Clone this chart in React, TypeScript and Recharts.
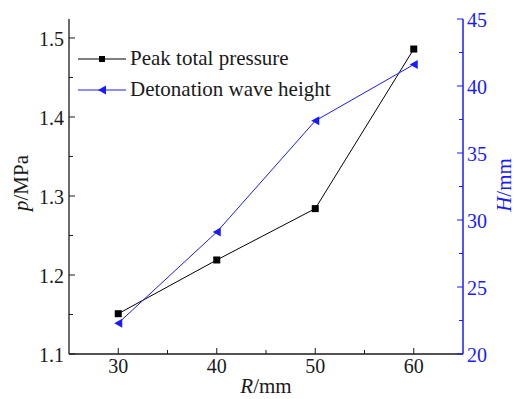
import { LineChart, Line, XAxis, YAxis } from 'recharts';

const radius = [30, 40, 50, 60];
const peakPressure = [1.151, 1.219, 1.284, 1.486];
const waveHeight = [22.3, 29.1, 37.4, 41.6];

const xTicks = [30, 35, 40, 45, 50, 55, 60];
const xLabels = [30, 40, 50, 60];
const pTicks = [1.1, 1.15, 1.2, 1.25, 1.3, 1.35, 1.4, 1.45, 1.5];
const pLabels = [1.1, 1.2, 1.3, 1.4, 1.5];
const hTicks = [20, 22.5, 25, 27.5, 30, 32.5, 35, 37.5, 40, 42.5, 45];
const hLabels = [20, 25, 30, 35, 40, 45];

const FONT = '"Liberation Serif", "Times New Roman", serif';
const BLUE = '#1a1aff';
const INK = '#1a1a1a';

const data = radius.map((r, i) => ({ r, p: peakPressure[i], h: waveHeight[i] }));

const isMajor = (list: number[], v: number) => list.some(t => Math.abs(t - v) < 1e-6);

function BottomTick({ x, y, payload }: any) {
  const major = isMajor(xLabels, payload.value);
  return (
    <g>
      <line x1={x} y1={y} x2={x} y2={y - (major ? 6 : 4)} stroke={INK} />
      {major && (
        <text x={x} y={y + 19} textAnchor="middle" fontSize={20} fontFamily={FONT} fill={INK}>
          {payload.value}
        </text>
      )}
    </g>
  );
}

function TopTick({ x, y, payload }: any) {
  const major = isMajor(xLabels, payload.value);
  return <line x1={x} y1={y} x2={x} y2={y + (major ? 6 : 4)} stroke={INK} />;
}

function LeftTick({ x, y, payload }: any) {
  const major = isMajor(pLabels, payload.value);
  return (
    <g>
      <line x1={x} y1={y} x2={x + (major ? 6 : 4)} y2={y} stroke={INK} />
      {major && (
        <text x={x - 5} y={y + 8} textAnchor="end" fontSize={20} fontFamily={FONT} fill={INK}>
          {payload.value.toFixed(1)}
        </text>
      )}
    </g>
  );
}

function RightTick({ x, y, payload }: any) {
  const major = isMajor(hLabels, payload.value);
  return (
    <g>
      <line x1={x} y1={y} x2={x - (major ? 6 : 4)} y2={y} stroke={BLUE} />
      {major && (
        <text x={x + 4} y={y + 8} textAnchor="start" fontSize={20} fontFamily={FONT} fill={BLUE}>
          {payload.value}
        </text>
      )}
    </g>
  );
}

function SquareDot({ cx, cy }: any) {
  if (cx == null || cy == null) return null;
  return <rect x={cx - 3.5} y={cy - 3.5} width={7} height={7} fill="#000" />;
}

function TriangleDot({ cx, cy }: any) {
  if (cx == null || cy == null) return null;
  return <polygon points={`${cx - 4},${cy} ${cx + 4},${cy - 4.5} ${cx + 4},${cy + 4.5}`} fill={BLUE} />;
}

function LegendBox() {
  const rows = [
    { name: 'Peak total pressure', color: '#000', marker: 'square' },
    { name: 'Detonation wave height', color: BLUE, marker: 'triangle' },
  ];
  return (
    <div style={{ position: 'absolute', left: 78, top: 43, fontFamily: FONT, fontSize: 21, color: INK }}>
      {rows.map(row => (
        <div key={row.name} style={{ display: 'flex', alignItems: 'center', height: 31 }}>
          <svg width={52} height={12} style={{ display: 'block' }}>
            <line x1={0} y1={6} x2={48} y2={6} stroke={row.color} strokeWidth={1} />
            {row.marker === 'square' ? (
              <rect x={21} y={3} width={6} height={6} fill={row.color} />
            ) : (
              <polygon points="20,6 28,1.5 28,10.5" fill={row.color} />
            )}
          </svg>
          <span style={{ lineHeight: 1 }}>{row.name}</span>
        </div>
      ))}
    </div>
  );
}

function AxisTitles() {
  return (
    <svg width={516} height={399} style={{ position: 'absolute', left: 0, top: 0, pointerEvents: 'none' }}>
      <text x={266} y={393} textAnchor="middle" fontSize={21} fontFamily={FONT} fill={INK}>
        <tspan fontStyle="italic">R</tspan>/mm
      </text>
      <text x={28} y={183} textAnchor="middle" fontSize={21} fontFamily={FONT} fill={INK} transform="rotate(-90 28 183)">
        <tspan fontStyle="italic">p</tspan>/MPa
      </text>
      <text x={511} y={185} textAnchor="middle" fontSize={21} fontFamily={FONT} fill={BLUE} transform="rotate(-90 511 185)">
        <tspan fontStyle="italic">H</tspan>/mm
      </text>
    </svg>
  );
}

export default function App() {
  return (
    <div style={{ position: 'relative', width: 516, height: 399, background: '#fff' }}>
      <style>{'body{margin:0}'}</style>
      <LineChart width={516} height={399} data={data} margin={{ top: 19, right: 0, left: 0, bottom: 0 }}>
        <XAxis
          xAxisId="bottom"
          dataKey="r"
          type="number"
          domain={[25, 65]}
          ticks={xTicks}
          height={45}
          tickSize={0}
          tickMargin={0}
          tickLine={false}
          tick={<BottomTick />}
          axisLine={{ stroke: INK, strokeWidth: 1.3 }}
        />
        <XAxis
          xAxisId="top"
          orientation="top"
          dataKey="r"
          type="number"
          domain={[25, 65]}
          ticks={xTicks}
          height={0}
          tickSize={0}
          tickMargin={0}
          tickLine={false}
          tick={<TopTick />}
          axisLine={{ stroke: INK, strokeWidth: 1.3 }}
        />
        <YAxis
          yAxisId="left"
          type="number"
          domain={[1.1, 1.524]}
          ticks={pTicks}
          width={69}
          tickSize={0}
          tickMargin={0}
          tickLine={false}
          tick={<LeftTick />}
          axisLine={{ stroke: INK, strokeWidth: 1.3 }}
          allowDataOverflow
        />
        <YAxis
          yAxisId="right"
          orientation="right"
          type="number"
          domain={[20, 45]}
          ticks={hTicks}
          width={53}
          tickSize={0}
          tickMargin={0}
          tickLine={false}
          tick={<RightTick />}
          axisLine={{ stroke: BLUE, strokeWidth: 1.5 }}
          allowDataOverflow
        />
        <Line
          xAxisId="bottom"
          yAxisId="left"
          dataKey="p"
          name="Peak total pressure"
          stroke="#000"
          strokeWidth={1}
          dot={<SquareDot />}
          activeDot={false}
          isAnimationActive={false}
        />
        <Line
          xAxisId="bottom"
          yAxisId="right"
          dataKey="h"
          name="Detonation wave height"
          stroke={BLUE}
          strokeWidth={1}
          dot={<TriangleDot />}
          activeDot={false}
          isAnimationActive={false}
        />
      </LineChart>
      <LegendBox />
      <AxisTitles />
    </div>
  );
}
